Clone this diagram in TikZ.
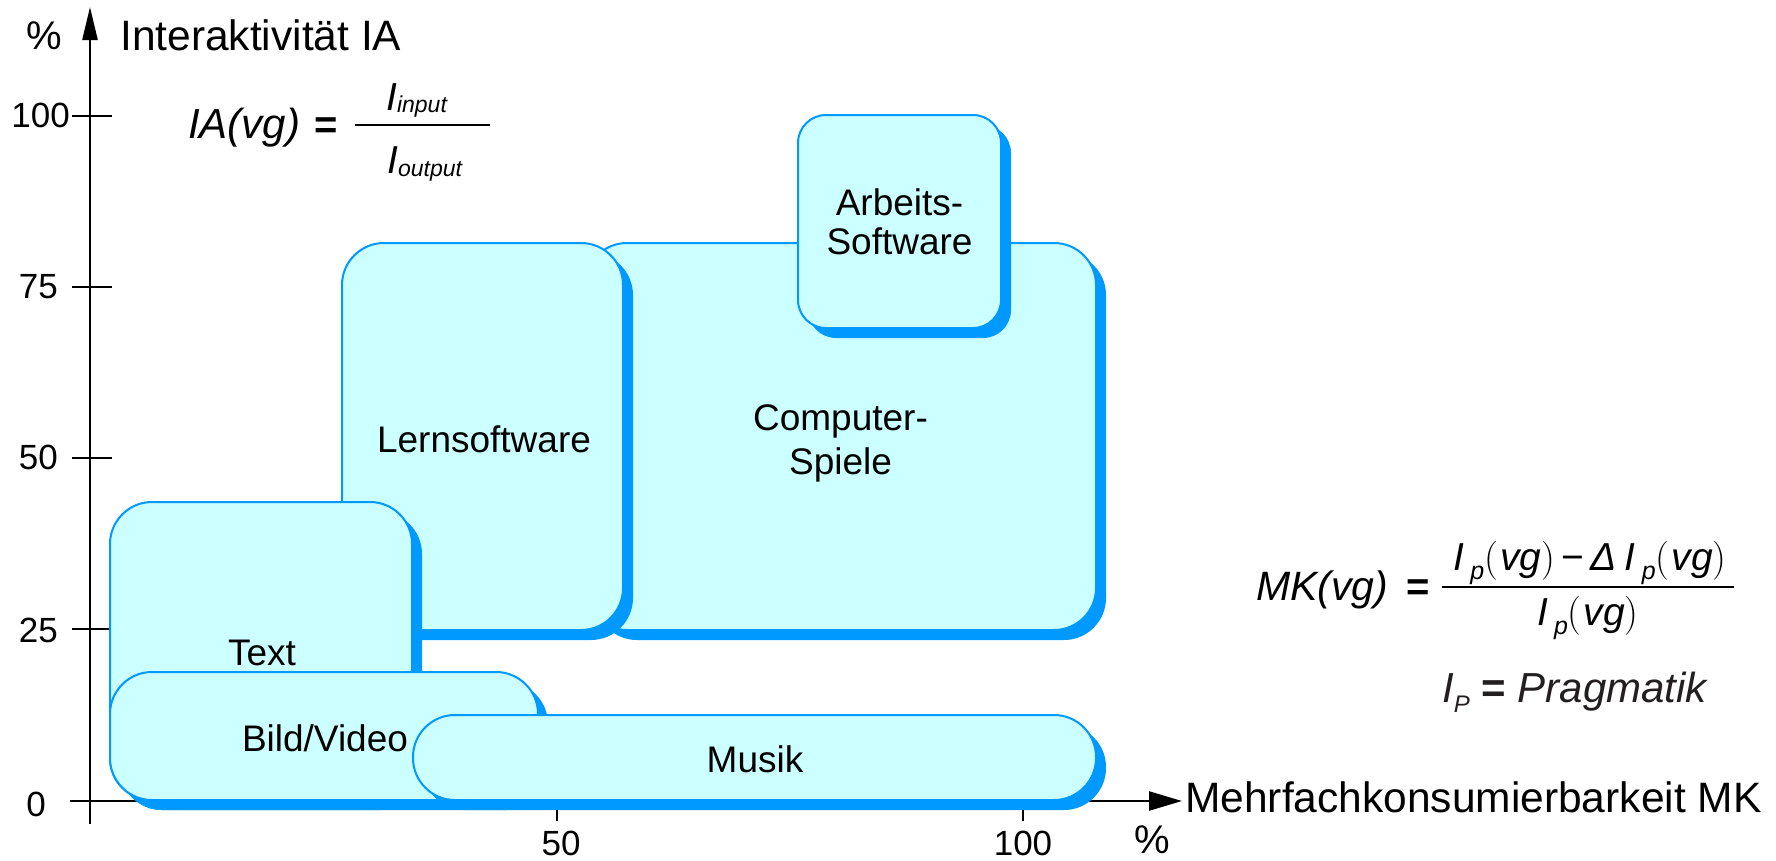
\documentclass[tikz,border=0pt]{standalone}
\usepackage{fontspec}
\setmainfont{Liberation Sans}
\usetikzlibrary{arrows.meta,shadows}
\definecolor{boxfill}{HTML}{CCFFFF}
\definecolor{boxblue}{HTML}{0099FF}
\definecolor{txtgray}{HTML}{231F20}
\newcommand{\lmparen}[1]{{\fontfamily{lmr}\upshape\selectfont #1}}
\newcommand{\subsc}[3]{\raisebox{#1}{\fontsize{#2}{#2}\selectfont\itshape #3}}
\begin{document}
\begin{tikzpicture}[x=1pt,y=-1pt,
  axis/.style={line width=2.5pt, black},
  tickline/.style={line width=2pt, black},
  blob/.style={draw=boxblue, fill=boxfill, line width=2pt, rounded corners=42pt, inner sep=0pt,
     general shadow={fill=boxblue, shadow xshift=10pt, shadow yshift=-10pt},
     font=\fontsize{37}{44}\selectfont, align=center},
  boxtext/.style={inner sep=0pt, font=\fontsize{37}{44}\selectfont, align=center},
  lbl/.style={inner sep=0pt, font=\fontsize{35}{42}\selectfont},
  pct/.style={inner sep=0pt, font=\fontsize{40}{48}\selectfont},
  axlbl/.style={inner sep=0pt, font=\fontsize{42.5}{50}\selectfont},
  fml/.style={inner sep=0pt, font=\fontsize{41}{48}\selectfont},
  fmli/.style={inner sep=0pt, font=\fontsize{41}{48}\selectfont\itshape},
  bar/.style={line width=2pt, black},
]
\useasboundingbox (0,0) rectangle (1776,860);

% axes
\coordinate (ybot) at (90,824);
\coordinate (ytop) at (90,7);
\coordinate (xleft) at (70,801);
\coordinate (xright) at (1182,801);
\draw[axis, -{Triangle[length=33pt,width=15pt]}] (ybot) -- (ytop);
\draw[axis, -{Triangle[length=33pt,width=19pt]}] (xleft) -- (xright);
\foreach \yy in {115.5,286.6,457.6,629} {\draw[tickline] (72,\yy) -- (112,\yy);}
\foreach \xx in {557,1023} {\draw[tickline] (\xx,781) -- (\xx,821);}

% tick labels
\node[lbl, anchor=east] (t100) at (70,115.5) {100};
\node[lbl, anchor=east] (t75) at (58,286.6) {75};
\node[lbl, anchor=east] (t50) at (58,457.6) {50};
\node[lbl, anchor=east] (t25) at (58,630) {25};
\node[lbl, anchor=east] (t0) at (46,804) {0};
\node[lbl] (x50) at (561,843) {50};
\node[lbl] (x100) at (1023,843) {100};
\node[pct] (pcty) at (44,36) {\%};
\node[pct] (pctx) at (1152,840) {\%};
\node[axlbl, anchor=base west] (ylab) at (120,50) {Interaktivität IA};
\node[axlbl, anchor=base west] (xlab) at (1185,812) {Mehrfachkonsumierbarkeit MK};

% boxes
\node[blob, minimum width=511pt, minimum height=387pt] (cs) at (840.5,436.5) {};
\node[boxtext] (cstext) at (840.5,443) {Computer-\\Spiele};
\node[blob, minimum width=281pt, minimum height=387pt] (ls) at (482.5,436.5) {};
\node[boxtext] (lstext) at (484,439) {Lernsoftware};
\node[blob, rounded corners=28pt, minimum width=203pt, minimum height=213pt] (as) at (899.5,221.5) {Arbeits-\\[-5pt]Software};
\node[blob, minimum width=302pt, minimum height=298pt] (tx) at (261,651) {};
\node[boxtext] (txtext) at (262,653) {Text};
\node[blob, minimum width=428pt, minimum height=128pt] (bv) at (324,736) {};
\node[boxtext] (bvtext) at (325,738) {Bild/Video};
\node[blob, minimum width=683pt, minimum height=85pt] (mu) at (754.5,757.5) {};
\node[boxtext] (mutext) at (755,759) {Musik};

% IA formula
\node[fmli, anchor=base west, font=\fontsize{42}{48}\selectfont\itshape] (ialhs) at (188,138) {IA(vg)};
\node[fml, anchor=base, font=\fontsize{40}{46}\selectfont\bfseries] (iaeq) at (326,138) {=};
\coordinate (iabarl) at (355,125);
\coordinate (iabarr) at (490,125);
\draw[bar] (iabarl) -- (iabarr);
\node[fmli, anchor=base west, font=\fontsize{39}{46}\selectfont\itshape] (ianum) at (386,110) {I\subsc{-2pt}{23}{input}};
\node[fmli, anchor=base west, font=\fontsize{39}{46}\selectfont\itshape] (iaden) at (387,173) {I\subsc{-3pt}{23}{output}};

% MK formula
\node[fmli, anchor=base west] (mklhs) at (1256,600) {MK(vg)};
\node[fml, anchor=base, font=\fontsize{40}{46}\selectfont\bfseries] (mkeq) at (1418,600) {=};
\coordinate (mkbarl) at (1442,587);
\coordinate (mkbarr) at (1734,587);
\draw[bar] (mkbarl) -- (mkbarr);
\node[fmli, anchor=base, font=\fontsize{39}{46}\selectfont\itshape] (mknum) at (1590,570)
  {I\hspace{6pt}\subsc{-9pt}{25}{p}\lmparen{(}\hspace{2pt}vg\lmparen{)}\,{\upshape −}\,Δ\hspace{8pt}I\hspace{6pt}\subsc{-9pt}{25}{p}\lmparen{(}\hspace{2pt}vg\lmparen{)}};
\node[fmli, anchor=base, font=\fontsize{39}{46}\selectfont\itshape] (mkden) at (1588,625)
  {I\hspace{6pt}\subsc{-9pt}{25}{p}\lmparen{(}\hspace{2pt}vg\lmparen{)}};
\node[fmli, anchor=base west, text=txtgray, font=\fontsize{42}{48}\selectfont\itshape] (prag) at (1442,702)
  {I\subsc{-10pt}{24}{P} {\upshape\bfseries =} Pragmatik};
\end{tikzpicture}
\end{document}
